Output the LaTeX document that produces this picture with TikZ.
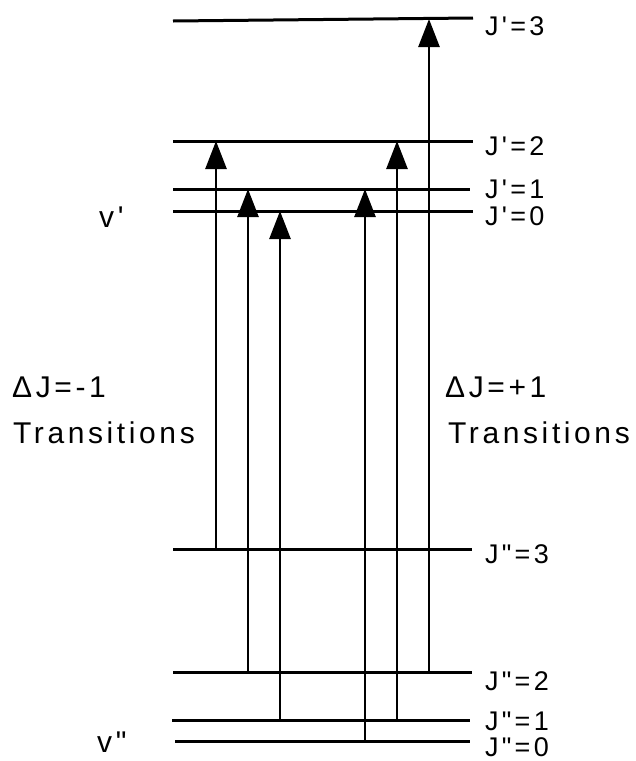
\documentclass[tikz,border=0pt]{standalone}
\usepackage{fontspec}
\newfontfamily\lblfont[LetterSpace=12]{Liberation Sans}
\usetikzlibrary{arrows.meta}

\begin{document}
\begin{tikzpicture}[
        x=1pt, y=-1pt,
        level/.style={line width=3pt},
        trans/.style={-{Triangle[length=28pt, width=21pt]}, line width=2.6pt},
        lbl/.style={anchor=base west, inner sep=0pt, text depth=0pt, font=\fontsize{30}{34}\lblfont},
        jlbl/.style={lbl, font=\fontsize{27}{31}\lblfont},
    ]
        \useasboundingbox (0,0) rectangle (636,761);

        % Upper levels (v')
        \coordinate (u3l) at (173,21);  \coordinate (u3r) at (473,18);
        \coordinate (u2l) at (173,141); \coordinate (u2r) at (473,141);
        \coordinate (u1l) at (173,189); \coordinate (u1r) at (470,189);
        \coordinate (u0l) at (173,211); \coordinate (u0r) at (473,211);

        % Lower levels (v")
        \coordinate (l3l) at (173,549); \coordinate (l3r) at (472,549);
        \coordinate (l2l) at (173,672); \coordinate (l2r) at (472,672);
        \coordinate (l1l) at (172,720); \coordinate (l1r) at (470,720);
        \coordinate (l0l) at (175,741); \coordinate (l0r) at (470,741);

        \foreach \lv in {u3, u2, u1, u0, l3, l2, l1, l0}
            \draw[level] (\lv l) -- (\lv r);

        % Transitions
        \foreach \x/\lo/\up [count=\i] in {216/549/141, 248/672/189, 280/720/211, 365/741/189, 397/720/141, 429/672/19} {
            \coordinate (s\i) at (\x,\lo);
            \coordinate (e\i) at (\x,\up);
            \draw[trans] (s\i) -- (e\i);
        }

        % Level labels
        \node[jlbl] (ju3) at (485,35)  {J'=3};
        \node[jlbl] (ju2) at (485,155) {J'=2};
        \node[jlbl] (ju1) at (485,198) {J'=1};
        \node[jlbl] (ju0) at (485,225) {J'=0};
        \node[jlbl] (jl3) at (485,563) {J"=3};
        \node[jlbl] (jl2) at (485,690) {J"=2};
        \node[jlbl] (jl1) at (485,730) {J"=1};
        \node[jlbl] (jl0) at (485,756) {J"=0};
        \node[lbl] (vu) at (99,227) {v'};
        \node[lbl] (vl) at (97,752) {v"};

        % Branch labels
        \node[lbl] (pm) at (12,397)  {ΔJ=-1};
        \node[lbl] (pt) at (13,443)  {Transitions};
        \node[lbl] (rm) at (445,397) {ΔJ=+1};
        \node[lbl] (rt) at (448,443) {Transitions};
    \end{tikzpicture}
\end{document}
